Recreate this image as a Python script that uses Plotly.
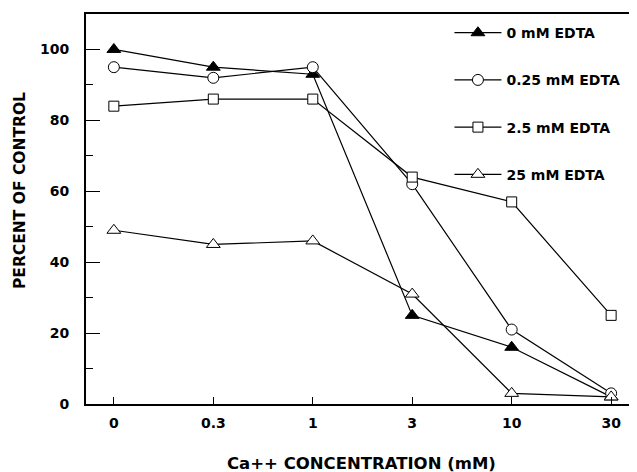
import plotly.graph_objects as go

ca_conc = ["0", "0.3", "1", "3", "10", "30"]
edta_0 = [100, 95, 93, 25, 16, 2]
edta_025 = [95, 92, 95, 62, 21, 3]
edta_25 = [84, 86, 86, 64, 57, 25]
edta_250 = [49, 45, 46, 31, 3, 2]

series = [
    ("0 mM EDTA", edta_0, "triangle-up", "black", 12),
    ("0.25 mM EDTA", edta_025, "circle", "white", 11),
    ("2.5 mM EDTA", edta_25, "square", "white", 10),
    ("25 mM EDTA", edta_250, "triangle-up", "white", 12),
]

FONT = "DejaVu Sans, Verdana, sans-serif"

fig = go.Figure()
for i, (name, vals, sym, fill, size) in enumerate(series):
    fig.add_trace(go.Scatter(
        x=ca_conc, y=vals, name=name, mode="lines+markers",
        line=dict(color="black", width=1.2),
        marker=dict(symbol=sym, size=size, color=fill,
                    line=dict(color="black", width=1)),
        legendgroup=f"g{i}",
    ))

# page body has an 8px margin, so the figure is sized/offset to compensate
fig.update_layout(
    width=629, height=464,
    margin=dict(l=78, r=0, t=6, b=68),
    paper_bgcolor="white", plot_bgcolor="white",
    font=dict(family=FONT, color="black"),
    showlegend=True,
    legend=dict(
        x=0.6596, y=0.992, xanchor="left", yanchor="top",
        font=dict(family=FONT, size=14, color="black", weight="bold"),
        tracegroupgap=26, itemwidth=47, bgcolor="rgba(0,0,0,0)",
    ),
    annotations=[
        dict(text="Ca++ CONCENTRATION (mM)", xref="paper", yref="paper",
             x=0.5, y=0, xanchor="center", yanchor="middle", yshift=-59,
             showarrow=False, font=dict(family=FONT, size=16.5, weight="bold")),
        dict(text="PERCENT OF CONTROL", xref="paper", yref="paper",
             x=0, y=0.546, xanchor="center", yanchor="middle", xshift=-66,
             textangle=-90, showarrow=False,
             font=dict(family=FONT, size=15.5, weight="bold")),
    ],
)

fig.update_xaxes(
    type="category", range=[-0.28, 5.26], automargin=False,
    showline=True, linecolor="black", linewidth=2, mirror=True,
    showgrid=False, zeroline=False,
    ticks="inside", ticklen=7, tickcolor="black", tickwidth=1,
    tickfont=dict(family=FONT, size=14, weight="bold"),
    ticklabelstandoff=5,
)
fig.update_yaxes(
    range=[0, 110], tickvals=[0, 20, 40, 60, 80, 100], automargin=False,
    showline=True, linecolor="black", linewidth=2,
    showgrid=False, zeroline=False,
    ticks="inside", ticklen=14, tickcolor="black", tickwidth=1,
    minor=dict(ticks="inside", ticklen=7, tickcolor="black", dtick=10, tick0=10, showgrid=False),
    tickfont=dict(family=FONT, size=14, weight="bold"),
    ticklabelstandoff=12,
)

fig.write_html("out.html")
